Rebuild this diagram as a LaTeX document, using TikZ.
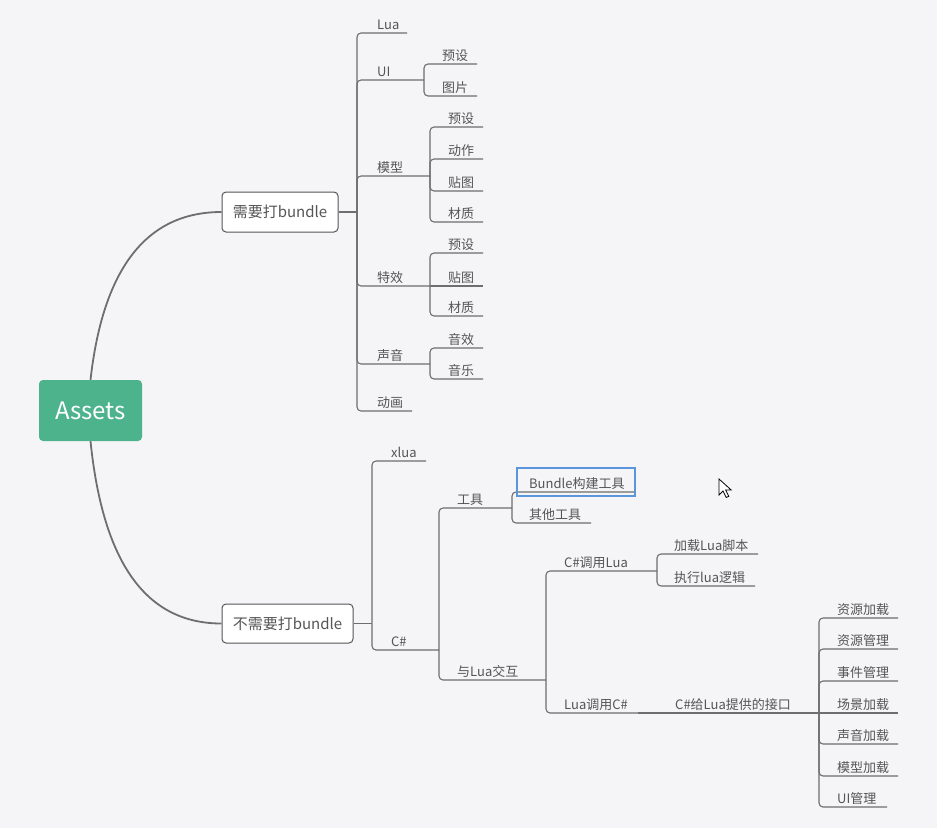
\documentclass[tikz,border=0pt]{standalone}
\usepackage{fontspec}
\setmainfont{Noto Sans CJK SC}
\definecolor{bgc}{RGB}{245,244,247}
\definecolor{linec}{RGB}{110,110,110}
\definecolor{txtc}{RGB}{85,85,85}
\definecolor{rootc}{RGB}{76,179,141}
\definecolor{selc}{RGB}{90,150,220}
\newcommand\mmtopic[6]{%
  \coordinate (#1-e) at (#5,#4);
  \node[lbl] (#1) at (#3,#4-4) {#6};
  \draw[conn] (#2) |- (#1-e);
}
\newcommand\mmtopicS[6]{%
  \coordinate (#1-e) at (#5,#4);
  \node[lbl] (#1) at (#3,#4-4) {#6};
  \draw[conn] (#2) -- (#1-e);
}
\begin{document}
\begin{tikzpicture}[x=1pt,y=-1pt,
  lbl/.style={anchor=base west,inner sep=0pt,text=txtc,font=\fontsize{13}{15}\selectfont},
  conn/.style={draw=linec,line width=1.1pt,rounded corners=4pt},
  curve/.style={draw=linec,line width=1.8pt},
  box/.style={draw=txtc,fill=white,line width=1pt,rounded corners=4pt,text=txtc,font=\fontsize{15}{17}\selectfont,inner sep=0pt},
  rootbox/.style={fill=rootc,rounded corners=4pt,text=white,font=\fontsize{24}{28}\selectfont,inner sep=0pt,minimum width=103pt,minimum height=61pt}]
\fill[bgc] (0,0) rectangle (937,828);
\useasboundingbox (0,0) rectangle (937,828);

% root and main boxes
\node[rootbox] (root) at (90.5,410.5) {Assets};
\node[box,minimum width=116pt,minimum height=40pt] (need) at (280,212) {需要打bundle};
\node[box,minimum width=131pt,minimum height=39pt] (noneed) at (287.5,623.5) {不需要打bundle};

\draw[curve] (root.north) .. controls (103,269) and (146,212) .. (need.west);
\draw[curve] (root.south) .. controls (103,563) and (146,623.5) .. (noneed.west);

% ---------- top branch ----------
\coordinate (b1) at (357,212);
\draw[conn] (need.east) -- (b1);
\mmtopic{lua}{b1}{377}{33}{407}{Lua}
\mmtopic{ui}{b1}{377}{80}{424}{UI}
\mmtopic{uia}{ui-e}{442}{64}{477}{预设}
\mmtopic{uib}{ui-e}{442}{96}{477}{图片}
\mmtopic{mx}{b1}{377}{176}{430}{模型}
\mmtopic{mxa}{mx-e}{448}{127}{483}{预设}
\mmtopic{mxb}{mx-e}{448}{159}{483}{动作}
\mmtopic{mxc}{mx-e}{448}{191}{483}{贴图}
\mmtopic{mxd}{mx-e}{448}{222}{483}{材质}
\mmtopic{tx}{b1}{377}{286}{430}{特效}
\mmtopic{txa}{tx-e}{448}{253}{483}{预设}
\mmtopicS{txb}{tx-e}{448}{286}{483}{贴图}
\mmtopic{txc}{tx-e}{448}{316}{483}{材质}
\mmtopic{sy}{b1}{377}{364}{430}{声音}
\mmtopic{sya}{sy-e}{448}{348}{483}{音效}
\mmtopic{syb}{sy-e}{448}{379}{483}{音乐}
\mmtopic{dh}{b1}{377}{411}{412}{动画}

% ---------- bottom branch ----------
\coordinate (b2) at (372,623.5);
\draw[conn] (noneed.east) -- (b2);
\mmtopic{xlua}{b2}{391}{461}{426}{xlua}
\mmtopic{cs}{b2}{391}{650}{439}{C\#}
\mmtopic{gj}{cs-e}{457}{508}{512}{工具}
\mmtopic{gja}{gj-e}{529}{492}{634}{Bundle构建工具}
\mmtopic{gjb}{gj-e}{529}{523}{591}{其他工具}
\node[draw=selc,line width=1.4pt,minimum width=118pt,minimum height=28pt,inner sep=0pt] (sel) at (576,482) {};
\mmtopic{jh}{cs-e}{457}{680}{546}{与Lua交互}
\mmtopic{cl}{jh-e}{564}{571}{657}{C\#调用Lua}
\mmtopic{cla}{cl-e}{674}{554}{758}{加载Lua脚本}
\mmtopic{clb}{cl-e}{674}{586}{755}{执行lua逻辑}
\mmtopic{lc}{jh-e}{564}{713}{638}{Lua调用C\#}
\mmtopicS{jk}{lc-e}{675}{713}{819}{C\#给Lua提供的接口}
\mmtopic{jka}{jk-e}{837}{618}{898}{资源加载}
\mmtopic{jkb}{jk-e}{837}{649}{898}{资源管理}
\mmtopic{jkc}{jk-e}{837}{681}{898}{事件管理}
\mmtopicS{jkd}{jk-e}{837}{713}{898}{场景加载}
\mmtopic{jke}{jk-e}{837}{744}{898}{声音加载}
\mmtopic{jkf}{jk-e}{837}{776}{898}{模型加载}
\mmtopic{jkg}{jk-e}{837}{807}{887}{UI管理}

% mouse cursor
\draw[fill=white,line width=0.8pt,line join=miter] (719,479) -- ++(0,16) -- ++(4,-4) -- ++(3.2,6.5) -- ++(2.6,-1.2) -- ++(-3.2,-6.3) -- ++(5.6,0) -- cycle;
\end{tikzpicture}
\end{document}
